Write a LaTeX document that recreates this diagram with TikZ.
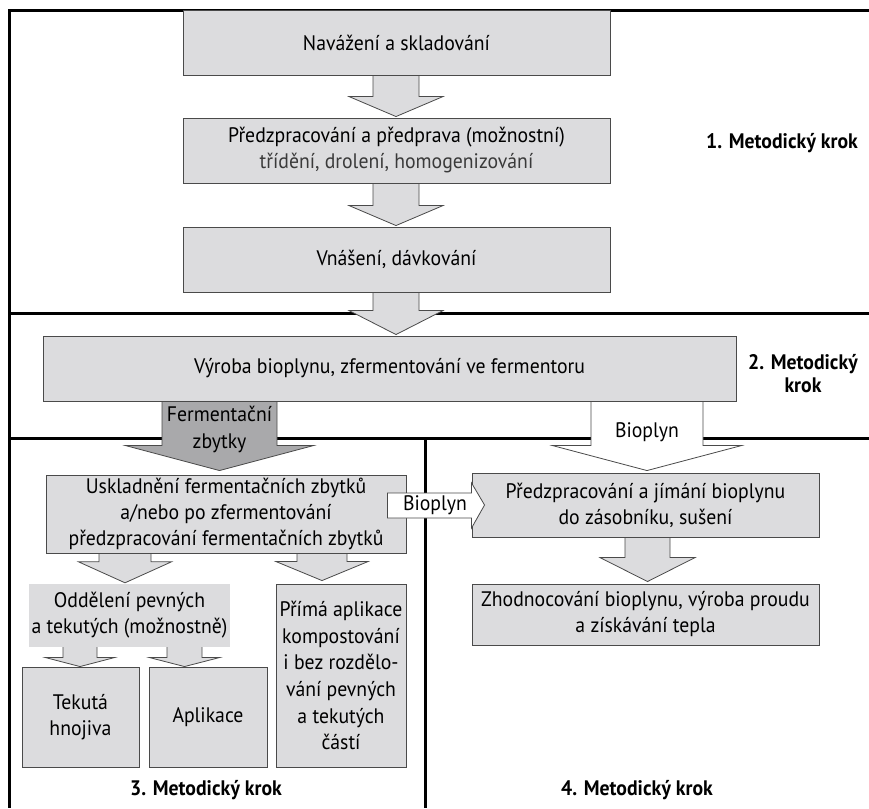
\documentclass[tikz,border=0pt]{standalone}
\usepackage{fontspec}
\setmainfont{PT Sans}[FakeStretch=0.94]
\usetikzlibrary{calc}
\definecolor{boxgray}{HTML}{DCDCDE}
\definecolor{darkarrow}{HTML}{A9A9AB}
\definecolor{edgegray}{HTML}{4A4A4A}
\definecolor{subtext}{HTML}{3A3A3A}
\pgfdeclarelayer{back}
\pgfdeclarelayer{mid}
\pgfsetlayers{back,mid,main}
% #1 x, #2 from node, #3 to node, #4 shaft half width, #5 head half width, #6 head length, #7 gap, #8 style
\newcommand\blkdown[8]{%
  \filldraw[#8] let \p1=(#2.south), \p2=(#3.north) in
   (#1pt-#4pt,\y1) -- (#1pt-#4pt,\y2+#7pt+#6pt) -- (#1pt-#5pt,\y2+#7pt+#6pt) -- (#1pt,\y2+#7pt)
   -- (#1pt+#5pt,\y2+#7pt+#6pt) -- (#1pt+#4pt,\y2+#7pt+#6pt) -- (#1pt+#4pt,\y1);}
\begin{document}
\begin{tikzpicture}[x=1pt,y=-1pt,
  txt/.style={font=\fontsize{21}{26}\selectfont, align=center, inner sep=0pt},
  stepbox/.style={txt, draw=edgegray, line width=0.9pt, fill=boxgray, minimum width=#1},
  stepbox/.default=427pt,
  plainbox/.style={txt, fill=boxgray},
  krok/.style={font=\fontsize{21}{27}\selectfont\bfseries, align=center, inner sep=0pt},
  frame/.style={line width=3pt, black},
  arr/.style={draw=edgegray, line width=0.8pt, fill=boxgray},
  arrdark/.style={draw=edgegray, line width=0.8pt, fill=darkarrow},
  arrwhite/.style={draw=edgegray, line width=0.8pt, fill=white}]
\useasboundingbox (0,0) rectangle (869,808);

% frame lines
\begin{pgfonlayer}{back}
\draw[frame, line join=miter] (869,11) -- (9,11) -- (9,808);
\draw[frame] (9,313) -- (869,313);
\draw[frame] (9,438) -- (869,438);
\draw[frame] (425,438) -- (425,808);
\end{pgfonlayer}

% boxes
\node[stepbox, minimum height=65pt] (b1) at (396.5,42.5) {Navážení a skladování};
\node[stepbox, minimum height=65pt] (b2) at (396.5,150.5)
  {Předzpracování a předprava (možnostní)\\{\color{subtext}třídění, drolení, homogenizování}};
\node[stepbox, minimum height=65pt] (b3) at (396.5,259.5) {Vnášení, dávkování};
\node[stepbox=693pt, minimum height=65pt] (b4) at (389.5,368.5) {Výroba bioplynu, zfermentování ve fermentoru};
\node[stepbox=360pt, minimum height=78pt] (b5) at (226,514)
  {Uskladnění fermentačních zbytků\\a/nebo po zfermentování\\předzpracování fermentačních zbytků};
\node[stepbox=347pt, minimum height=64pt] (b6) at (645.5,505)
  {Předzpracování a jímání bioplynu\\do zásobníku, sušení};
\node[stepbox=347pt, minimum height=61pt] (b7) at (645.5,614.5)
  {Zhodnocování bioplynu, výroba proudu\\a získávání tepla};
\node[plainbox, minimum width=201pt, minimum height=63pt] (b8) at (129.5,615.5)
  {Oddělení pevných\\a tekutých (možnostně)};
\node[stepbox=130pt, minimum height=183pt, font=\fontsize{21}{26.7}\selectfont] (b9) at (341,675.5)
  {Přímá aplikace\\kompostování\\i bez rozdělo-\\vání pevných\\a tekutých\\částí};
\node[stepbox=117pt, minimum height=100pt] (b10) at (80.5,717) {Tekutá\\hnojiva};
\node[stepbox=118pt, minimum height=100pt] (b11) at (208,717) {Aplikace};

% block arrows (below boxes)
\begin{pgfonlayer}{mid}
\blkdown{396}{b1}{b2}{23}{47}{20}{1}{arr}
\blkdown{396}{b2}{b3}{23}{47}{20}{1}{arr}
\blkdown{396}{b3}{b4}{23}{47}{24}{1}{arr}
\blkdown{219.5}{b4}{b5}{57.5}{94}{25}{4}{arrdark}
\blkdown{647}{b4}{b6}{56}{94.5}{25}{2}{arrwhite}
\blkdown{647.5}{b6}{b7}{22.5}{47.5}{24}{2}{arr}
\blkdown{125}{b5}{b8}{26}{46.5}{21}{1}{arr}
\blkdown{322}{b5}{b9}{25}{46}{19}{3}{arr}
\blkdown{80}{b8}{b10}{17}{34.5}{9}{0}{arr}
\blkdown{184.5}{b8}{b11}{17.5}{35}{9}{0}{arr}
\end{pgfonlayer}

% horizontal Bioplyn arrow from b5 to b6
\filldraw[arrwhite] let \p1=(b5.east), \p2=(b6.west) in
  (\x1-19pt,\y2-0.5pt+12.5pt) -- (\x2,\y2-0.5pt+12.5pt) -- (\x2,\y2+22pt) -- (\x2+13pt,\y2)
  -- (\x2,\y2-23pt) -- (\x2,\y2-0.5pt-12.5pt) -- (\x1-19pt,\y2-0.5pt-12.5pt) -- cycle;
\node[txt] (bioh) at (435,505) {Bioplyn};

% arrow labels
\node[txt, font=\fontsize{21}{27}\selectfont] (fz) at (219.5,429.5) {Fermentační\\zbytky};
\node[txt] (biov) at (647,432) {Bioplyn};

% step labels
\node[krok] (k1) at (782,143) {1. Metodický krok};
\node[krok, font=\fontsize{21}{23}\selectfont\bfseries] (k2) at (803,374) {2. Metodický\\krok};
\node[krok] (k3) at (206,790) {3. Metodický krok};
\node[krok] (k4) at (637,790) {4. Metodický krok};
\end{tikzpicture}
\end{document}
